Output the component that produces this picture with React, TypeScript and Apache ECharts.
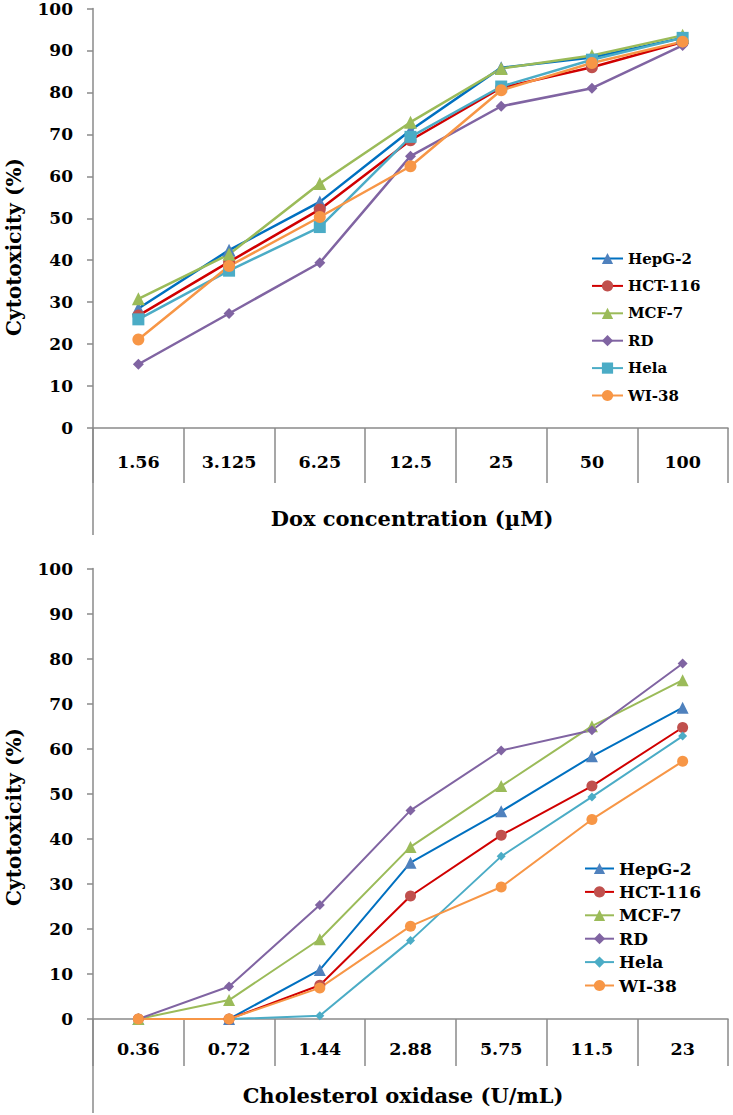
import React, { useEffect, useRef } from "react";
import * as echarts from "echarts";

const seriesNames = ["HepG-2", "HCT-116", "MCF-7", "RD", "Hela", "WI-38"];
const yTicks = [0, 10, 20, 30, 40, 50, 60, 70, 80, 90, 100];

const topCategories = ["1.56", "3.125", "6.25", "12.5", "25", "50", "100"];
const topHepG2 = [28.5, 42.4, 53.9, 71.0, 85.9, 88.3, 93.0];
const topHCT116 = [26.8, 39.6, 52.1, 68.6, 81.1, 86.0, 92.0];
const topMCF7 = [30.8, 41.4, 58.3, 72.9, 85.7, 88.8, 93.6];
const topRD = [15.2, 27.3, 39.4, 64.8, 76.7, 81.0, 91.2];
const topHela = [25.9, 37.5, 47.9, 69.4, 81.4, 87.8, 93.0];
const topWI38 = [21.1, 38.6, 50.3, 62.4, 80.5, 87.0, 92.1];

const bottomCategories = ["0.36", "0.72", "1.44", "2.88", "5.75", "11.5", "23"];
const botHepG2 = [0, 0, 10.9, 34.7, 46.1, 58.3, 69.1];
const botHCT116 = [0, 0, 7.5, 27.3, 40.8, 51.7, 64.7];
const botMCF7 = [0, 4.2, 17.7, 38.2, 51.7, 65.0, 75.2];
const botRD = [0, 7.2, 25.3, 46.3, 59.6, 64.1, 78.9];
const botHela = [0, 0, 0.7, 17.4, 36.1, 49.3, 62.8];
const botWI38 = [0, 0, 6.9, 20.6, 29.3, 44.3, 57.2];

const FONT = "DejaVu Serif";
const AXIS = "#8a8a8a";

const lineColors = ["#0070C0", "#D00000", "#9BBB59", "#8064A2", "#4BACC6", "#F79646"];
const markColors = ["#4F81BD", "#C0504D", "#9BBB59", "#8064A2", "#4BACC6", "#F79646"];

type Cfg = {
  categories: string[];
  data: number[][];
  symbols: string[];
  sizes: number[];
  lineWidth: number;
  gridHeight: number;
  tickLen: number;
  labelMargin: number;
  legendLeft: number;
  legendTop: number;
  legendFont: number;
  legendIconW: number;
  legendGap: number;
  xTitle: string;
  xTitleY: number;
  xTitleX: number;
  yTitleY: number;
  leftLineBottom: number;
};

function buildOption(c: Cfg): any {
  const gridTop = 8;
  const axisY = gridTop + c.gridHeight;
  return {
    animation: false,
    backgroundColor: "#ffffff",
    textStyle: { fontFamily: FONT },
    grid: { left: 93, top: gridTop, width: 635, height: c.gridHeight, containLabel: false },
    xAxis: {
      type: "category",
      data: c.categories,
      boundaryGap: true,
      axisLine: { show: true, lineStyle: { color: AXIS, width: 1.5 } },
      axisTick: { show: true, interval: 0, length: c.tickLen, lineStyle: { color: AXIS, width: 1.5 } },
      axisLabel: {
        interval: 0,
        margin: c.labelMargin,
        fontFamily: FONT,
        fontWeight: "bold",
        fontSize: 17.5,
        color: "#000",
      },
      splitLine: { show: false },
    },
    yAxis: {
      type: "value",
      min: yTicks[0],
      max: yTicks[yTicks.length - 1],
      interval: 10,
      axisLine: { show: true, lineStyle: { color: AXIS, width: 1.5 } },
      axisTick: { show: true, length: 6, lineStyle: { color: AXIS, width: 1.5 } },
      axisLabel: {
        margin: 20,
        fontFamily: FONT,
        fontWeight: "bold",
        fontSize: 17,
        color: "#000",
      },
      splitLine: { show: false },
    },
    legend: {
      orient: "vertical",
      left: c.legendLeft,
      top: c.legendTop,
      padding: 0,
      itemWidth: c.legendIconW,
      itemHeight: 14,
      itemGap: c.legendGap,
      data: seriesNames,
      textStyle: { fontFamily: FONT, fontWeight: "bold", fontSize: c.legendFont, color: "#000" },
    },
    series: seriesNames.map((name, i) => ({
      name,
      type: "line",
      data: c.data[i],
      symbol: c.symbols[i],
      symbolSize: c.sizes[i],
      lineStyle: { color: lineColors[i], width: c.lineWidth },
      itemStyle: { color: markColors[i] },
      emphasis: { disabled: true },
    })),
    graphic: [
      {
        type: "line",
        shape: { x1: 93, y1: axisY, x2: 93, y2: c.leftLineBottom },
        style: { stroke: AXIS, lineWidth: 1.5 },
      },
      {
        type: "text",
        x: 14,
        y: c.yTitleY,
        rotation: Math.PI / 2,
        style: {
          text: "Cytotoxicity (%)",
          fontFamily: FONT,
          fontWeight: "bold",
          fontSize: 20,
          fill: "#000",
          align: "center",
          verticalAlign: "middle",
        },
      },
      {
        type: "text",
        x: c.xTitleX,
        y: c.xTitleY,
        style: {
          text: c.xTitle,
          fontFamily: FONT,
          fontWeight: "bold",
          fontSize: 21,
          fill: "#000",
          align: "center",
          verticalAlign: "middle",
        },
      },
    ],
  };
}

function Chart({ cfg, height }: { cfg: Cfg; height: number }) {
  const ref = useRef<HTMLDivElement>(null);
  useEffect(() => {
    if (!ref.current) return;
    const chart = echarts.init(ref.current, undefined, { renderer: "svg" });
    chart.setOption(buildOption(cfg));
    return () => chart.dispose();
  }, []);
  return <div ref={ref} style={{ width: 733, height }} />;
}

const topCfg: Cfg = {
  categories: topCategories,
  data: [topHepG2, topHCT116, topMCF7, topRD, topHela, topWI38],
  symbols: ["triangle", "circle", "triangle", "diamond", "rect", "circle"],
  sizes: [13, 12, 13, 11, 12, 12],
  lineWidth: 2.5,
  gridHeight: 420,
  tickLen: 55,
  labelMargin: 25,
  legendLeft: 591,
  legendTop: 251,
  legendFont: 15,
  legendIconW: 31,
  legendGap: 12.4,
  xTitle: "Dox concentration (\u00b5M)",
  xTitleX: 412,
  xTitleY: 518,
  yTitleY: 247,
  leftLineBottom: 535,
};

const bottomCfg: Cfg = {
  categories: bottomCategories,
  data: [botHepG2, botHCT116, botMCF7, botRD, botHela, botWI38],
  symbols: ["triangle", "circle", "triangle", "diamond", "diamond", "circle"],
  sizes: [12, 11, 12, 10, 9, 11],
  lineWidth: 2,
  gridHeight: 451,
  tickLen: 47,
  labelMargin: 21,
  legendLeft: 584,
  legendTop: 300,
  legendFont: 17,
  legendIconW: 29,
  legendGap: 6.4,
  xTitle: "Cholesterol oxidase (U/mL)",
  xTitleX: 403,
  xTitleY: 535,
  yTitleY: 257,
  leftLineBottom: 553,
};

export default function App() {
  return (
    <div style={{ position: "absolute", left: 0, top: 0, width: 733, height: 1115, background: "#fff" }}>
      <Chart cfg={topCfg} height={560} />
      <Chart cfg={bottomCfg} height={555} />
    </div>
  );
}
